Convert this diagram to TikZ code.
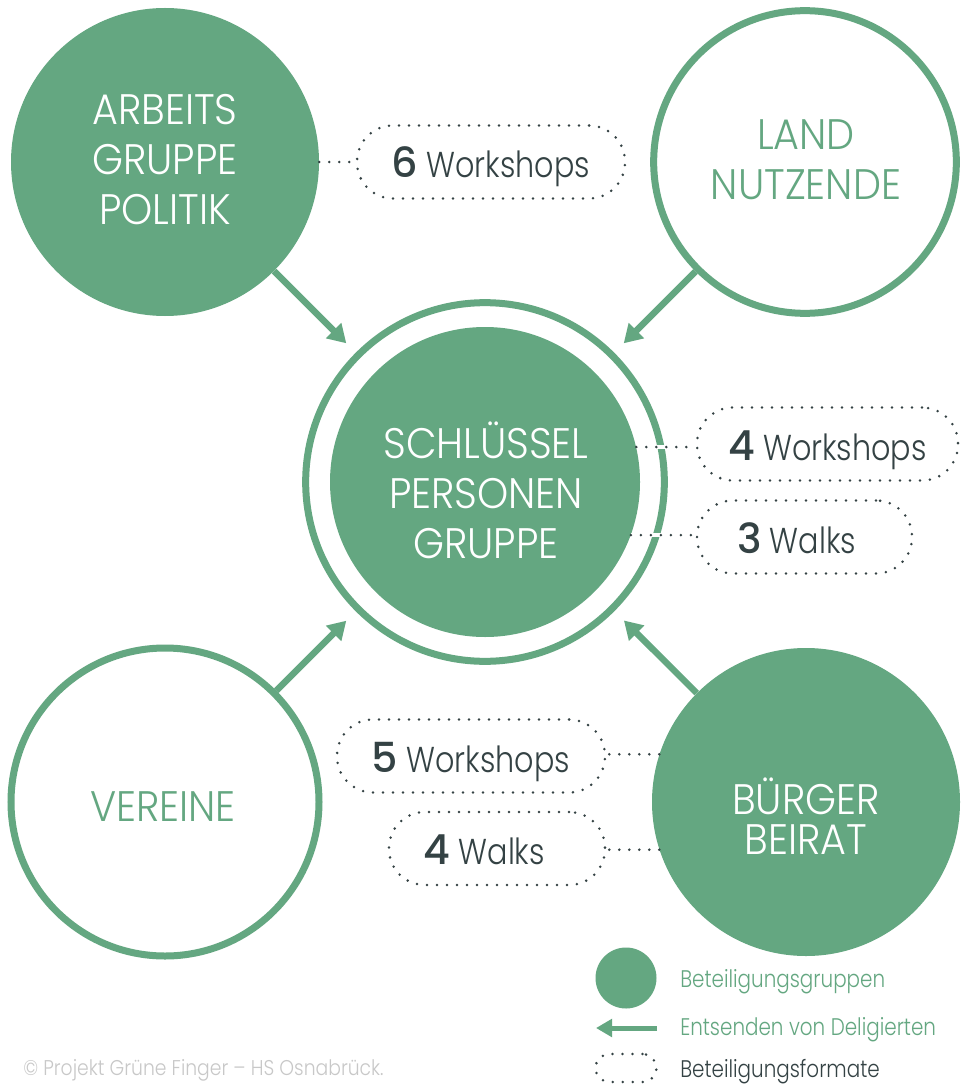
\documentclass[tikz,border=0pt]{standalone}
\usepackage{fontspec}
\usetikzlibrary{arrows.meta}
\IfFontExistsTF{Poppins Light}{%
  \newfontfamily\lightfont{Poppins Light}[FakeStretch=0.93]%
  \newfontfamily\lightlc{Poppins Light}[FakeStretch=0.84]%
  \newfontfamily\legfont{Poppins Light}[FakeStretch=0.83]%
  \newfontfamily\cpfont{Poppins Light}[FakeStretch=0.88]%
}{%
  \newfontfamily\lightfont{Poppins}[FakeStretch=0.93]%
  \newfontfamily\lightlc{Poppins}[FakeStretch=0.84]%
  \newfontfamily\legfont{Poppins}[FakeStretch=0.83]%
  \newfontfamily\cpfont{Poppins}[FakeStretch=0.88]%
}
\IfFontExistsTF{Poppins Medium}{\newfontfamily\digfont{Poppins Medium}}{\newfontfamily\digfontb{Poppins}\newcommand\digfont{\digfontb\bfseries}}
\definecolor{grn}{RGB}{100,167,129}
\definecolor{dk}{RGB}{52,66,68}
\definecolor{gry}{RGB}{200,200,200}
\newcommand\dg[1]{{\digfont\fontsize{31}{32}\selectfont #1}}
\tikzset{
  fillc/.style={circle, fill=grn, inner sep=0pt, minimum size=231pt},
  ringc/.style={circle, draw=grn, line width=5.25pt, inner sep=0pt},
  lbl/.style={align=center, inner sep=0pt, font=\lightfont\fontsize{32}{37.5}\selectfont},
  dotl/.style={draw=dk, line width=2.1pt, dash pattern=on 0pt off 7.5pt, line cap=round},
  pill/.style={dotl, rounded corners=27pt, minimum height=54.75pt, inner sep=0pt, text height=24pt, text depth=0pt, text=dk, font=\lightlc\fontsize{27}{30}\selectfont},
  arr/.style={draw=grn, line width=4.8pt, -{Triangle[length=13.5pt,width=15.5pt]}, shorten >=10pt},
  legtxt/.style={anchor=base west, inner sep=0pt, font=\legfont\fontsize{18}{22}\selectfont},
}
\begin{document}
\begin{tikzpicture}[x=0.75pt,y=-0.75pt]
\path[use as bounding box, fill=white] (0,0) rectangle (961,1084);
% circles
\node[fillc] (ap) at (165,162) {};
\node[ringc, minimum size=227pt] (ln) at (805,162) {};
\node[ringc, minimum size=269pt] (ring) at (485,482) {};
\node[fillc, minimum size=232.5pt] (sp) at (485,482) {};
\node[ringc, minimum size=231pt] (ve) at (165,802) {};
\node[fillc] (bb) at (806,802) {};
% labels
\node[lbl, text=white] (apt) at (165,160) {ARBEITS\\GRUPPE\\POLITIK};
\node[lbl, text=grn] (lnt) at (806,160) {LAND\\NUTZENDE};
\node[lbl, text=white] (spt) at (486,490) {SCHLÜSSEL\\PERSONEN\\GRUPPE};
\node[lbl, text=grn] (vet) at (163,807) {VEREINE};
\node[lbl, text=white, font=\lightfont\fontsize{32}{30}\selectfont] (bbt) at (806,816) {BÜRGER\\BEIRAT};
% arrows
\draw[arr] (ap) -- (ring);
\draw[arr] (ln) -- (ring);
\draw[arr] (ve) -- (ring);
\draw[arr] (bb) -- (ring);
% pills
\node[pill, minimum width=201pt] (p6) at (491,162) {\dg{6} Workshops};
\node[pill, minimum width=195.75pt] (p4w) at (827.5,444) {\dg{4} Workshops};
\node[pill, minimum width=161.25pt] (p3) at (804.5,537) {\dg{3} Walks\kern12pt};
\node[pill, minimum width=201pt] (p5) at (471,756) {\dg{5} Workshops};
\node[pill, minimum width=162pt] (p4k) at (497,848.5) {\dg{4} Walks\kern19pt};
% dotted connectors
\draw[dotl] (ap) -- (p6);
\draw[white, line width=3.5pt] (sp.13.8) -- (sp.13.8 -| p4w.west);
\draw[dotl] (sp.13.8) -- (sp.13.8 -| p4w.west);
\draw[white, line width=3.5pt] (sp.-20.8) -- (sp.-20.8 -| p3.west);
\draw[dotl] (sp.-20.8) -- (sp.-20.8 -| p3.west);
\draw[dotl] (bb.162.2) -- (bb.162.2 -| p5.east);
\draw[dotl] (bb.-162.7) -- (bb.-162.7 -| p4k.east);
% legend
\node[fillc, minimum size=45.75pt] (lg1) at (626,978) {};
\coordinate (la1) at (657,1028);
\coordinate (la2) at (596,1028);
\draw[draw=grn, line width=3.75pt, -{Triangle[length=12pt,width=13pt]}] (la1) -- (la2);
\node[dotl, rounded corners=10.5pt, minimum width=45.75pt, minimum height=21pt, inner sep=0pt] (lg3) at (626,1068) {};
\node[legtxt, text=grn] (lt1) at (680,987) {Beteiligungsgruppen};
\node[legtxt, text=grn] (lt2) at (680,1035) {Entsenden von Deligierten};
\node[legtxt, text=dk] (lt3) at (680,1077) {Beteiligungsformate};
\node[legtxt, text=gry, font=\cpfont\fontsize{16}{20}\selectfont] (cp) at (23,1075) {© Projekt Grüne Finger – HS Osnabrück.};
\end{tikzpicture}
\end{document}
